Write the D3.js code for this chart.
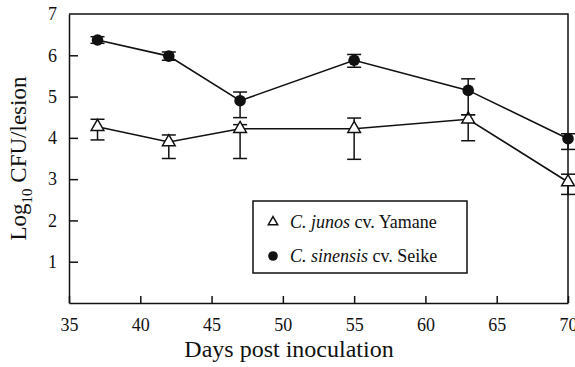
<!DOCTYPE html>
<html>
<head>
<meta charset="utf-8">
<script src="https://cdn.jsdelivr.net/npm/d3@7"></script>
<style>
body { margin: 0; background: #fff; }
svg text { font-family: "Liberation Serif", "DejaVu Serif", serif; fill: #111; }
</style>
</head>
<body>
<svg id="Viz"></svg>
<script>
// days sampled
let days = [37, 42, 47, 55, 63, 70];

// C. junos cv. Yamane (open triangles)
let yamane = [4.27, 3.9, 4.22, 4.22, 4.45, 2.93];
let yamaneHi = [4.45, 4.07, 4.32, 4.48, 4.56, 3.12];
let yamaneLo = [3.95, 3.5, 3.5, 3.48, 3.93, 2.63];

// C. sinensis cv. Seike (filled circles)
let seike = [6.37, 5.98, 4.9, 5.88, 5.15, 3.98];
let seikeHi = [6.45, 6.08, 5.11, 6.02, 5.43, 4.1];
let seikeLo = [6.29, 5.88, 4.49, 5.71, 4.56, 3.72];

let xTicks = [35, 40, 45, 50, 55, 60, 65, 70];
let yTicks = [1, 2, 3, 4, 5, 6, 7];

let Width = 575, Height = 367;
let margin = {top: 14, right: 7, bottom: 64, left: 69};

let vizArea = d3.select('#Viz')
  .attr("width", Width)
  .attr("height", Height);

let xScale = d3.scaleLinear().domain([35, 70]).range([margin.left, Width - margin.right]);
let yScale = d3.scaleLinear().domain([0, 7]).range([Height - margin.bottom, margin.top]);

let g = vizArea.append("g");

// box top + right
g.append("path")
  .attr("d", "M" + xScale(35) + "," + yScale(7) + "H" + xScale(70) + "V" + yScale(0))
  .attr("fill", "none")
  .attr("stroke", "#111")
  .attr("stroke-width", 1.5);

// x axis, ticks pointing inward
let xAxis = g.append("g")
  .attr("transform", "translate(0," + yScale(0) + ")")
  .call(d3.axisBottom(xScale).tickValues(xTicks).tickFormat(d3.format("d")).tickSize(-7).tickPadding(15).tickSizeOuter(0));
xAxis.selectAll("text").attr("font-size", 18).attr("dy", "0.71em");

// y axis, ticks pointing inward
let yAxis = g.append("g")
  .attr("transform", "translate(" + xScale(35) + ",0)")
  .call(d3.axisLeft(yScale).tickValues(yTicks.filter(function (d) { return d < 7; })).tickFormat(d3.format("d")).tickSize(-9).tickPadding(12).tickSizeOuter(0));
yAxis.selectAll("text").attr("font-size", 18);

xAxis.attr("font-family", null).attr("font-size", null);
yAxis.attr("font-family", null).attr("font-size", null);

// "7" at the top corner, no tick
g.append("text")
  .attr("x", xScale(35) - 12)
  .attr("y", yScale(7))
  .attr("dy", "0.32em")
  .attr("text-anchor", "end")
  .attr("font-size", 18)
  .text(yTicks[yTicks.length - 1]);

g.selectAll(".domain, .tick line").attr("stroke", "#111").attr("stroke-width", 1.5);
g.selectAll(".tick text").attr("fill", "#111");

// axis titles
vizArea.append("text")
  .attr("x", 289)
  .attr("y", 357)
  .attr("text-anchor", "middle")
  .attr("font-size", 24)
  .text("Days post inoculation");

let yl = vizArea.append("text")
  .attr("transform", "translate(26," + yScale(3.5) + ") rotate(-90)")
  .attr("text-anchor", "middle")
  .attr("font-size", 23);
yl.append("tspan").text("Log");
yl.append("tspan").attr("font-size", 15).attr("dy", 6).text("10");
yl.append("tspan").attr("dy", -6).text(" CFU/lesion");

function drawSeries(vals, hi, lo, kind) {
  let pts = days.map(function (d, i) { return {x: d, y: vals[i], hi: hi[i], lo: lo[i]}; });

  let line = d3.line()
    .x(function (d) { return xScale(d.x); })
    .y(function (d) { return yScale(d.y); });

  g.append("path")
    .datum(pts)
    .attr("fill", "none")
    .attr("stroke", "#111")
    .attr("stroke-width", 1.6)
    .attr("d", line);

  let eb = g.selectAll(null).data(pts).enter().append("g")
    .attr("stroke", "#111").attr("stroke-width", 1.5);
  eb.append("line")
    .attr("x1", function (d) { return xScale(d.x); })
    .attr("x2", function (d) { return xScale(d.x); })
    .attr("y1", function (d) { return yScale(d.hi); })
    .attr("y2", function (d) { return yScale(d.lo); });
  eb.append("line")
    .attr("x1", function (d) { return xScale(d.x) - 7; })
    .attr("x2", function (d) { return xScale(d.x) + 7; })
    .attr("y1", function (d) { return yScale(d.hi); })
    .attr("y2", function (d) { return yScale(d.hi); });
  eb.append("line")
    .attr("x1", function (d) { return xScale(d.x) - 7; })
    .attr("x2", function (d) { return xScale(d.x) + 7; })
    .attr("y1", function (d) { return yScale(d.lo); })
    .attr("y2", function (d) { return yScale(d.lo); });

  if (kind === "circle") {
    g.selectAll(null).data(pts).enter().append("circle")
      .attr("cx", function (d) { return xScale(d.x); })
      .attr("cy", function (d) { return yScale(d.y); })
      .attr("r", 5.8)
      .attr("fill", "#111");
  } else {
    g.selectAll(null).data(pts).enter().append("path")
      .attr("transform", function (d) { return "translate(" + xScale(d.x) + "," + yScale(d.y) + ")"; })
      .attr("d", d3.symbol().type(d3.symbolTriangle).size(70))
      .attr("fill", "#fff")
      .attr("stroke", "#111")
      .attr("stroke-width", 1.5);
  }
}

drawSeries(yamane, yamaneHi, yamaneLo, "triangle");
drawSeries(seike, seikeHi, seikeLo, "circle");

// legend
let lg = vizArea.append("g").attr("transform", "translate(253,201)");
lg.append("rect")
  .attr("width", 214).attr("height", 72)
  .attr("fill", "#fff").attr("stroke", "#111").attr("stroke-width", 1.5);

lg.append("path")
  .attr("transform", "translate(20,21)")
  .attr("d", d3.symbol().type(d3.symbolTriangle).size(38))
  .attr("fill", "#fff").attr("stroke", "#111").attr("stroke-width", 1.5);
lg.append("circle").attr("cx", 20).attr("cy", 55).attr("r", 4.8).attr("fill", "#111");

let t1 = lg.append("text").attr("x", 37).attr("y", 27).attr("font-size", 18);
t1.append("tspan").attr("font-style", "italic").text("C. junos");
t1.append("tspan").text(" cv. Yamane");
let t2 = lg.append("text").attr("x", 37).attr("y", 61).attr("font-size", 18);
t2.append("tspan").attr("font-style", "italic").text("C. sinensis");
t2.append("tspan").text(" cv. Seike");
</script>
</body>
</html>
